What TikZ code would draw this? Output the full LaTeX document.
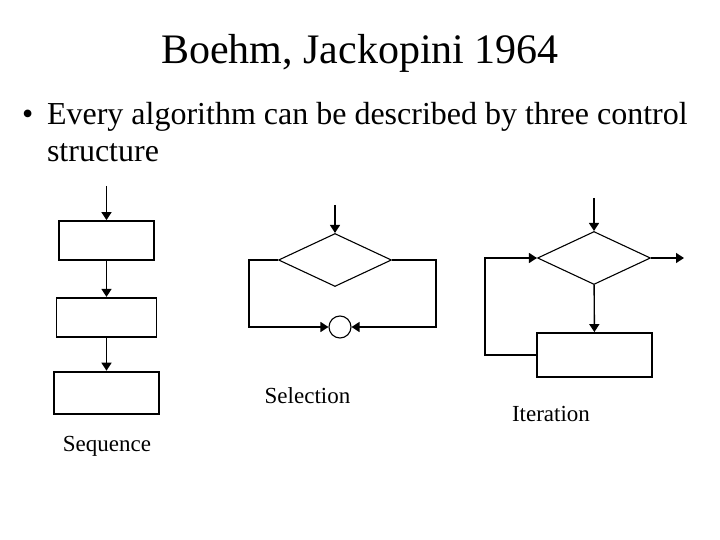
\documentclass[tikz,border=0pt]{standalone}
\usepackage{fontspec}
\setmainfont{Liberation Serif}
\usepackage{tikz}
\usetikzlibrary{arrows.meta,positioning,shapes.geometric}

\begin{document}
\begin{tikzpicture}[x=1pt, y=-1pt, line width=1.4pt,
    box/.style={draw, line width=1.8pt, minimum height=39pt, inner sep=0pt},
    dec/.style={draw, diamond, line width=1.1pt, inner sep=0pt,
                minimum width=113pt, minimum height=53pt},
    lbl/.style={font=\fontsize{23}{28}\selectfont, anchor=base},
    >={Triangle[length=8pt,width=10pt]}]
  \useasboundingbox (0,0) rectangle (720,540);
  \node[anchor=base, font=\fontsize{42}{50}\selectfont] (title) at (360,64) {Boehm, Jackopini 1964};
  \node[anchor=base west, font=\fontsize{32}{38}\selectfont] (bul) at (18,125) {•};
  \node[anchor=base west, font=\fontsize{32}{38}\selectfont] (txt1) at (43,125) {Every algorithm can be described by three control};
  \node[anchor=base west, font=\fontsize{32}{38}\selectfont] (txt2) at (43,161.5) {structure};

  \coordinate (s0) at (106.5,186);
  \node[box, minimum width=95pt] (s1) at (106.5,240.5) {};
  \node[box, minimum width=100pt, below=36pt of s1] (s2) {};
  \node[box, minimum width=105pt, minimum height=42pt, below=33pt of s2] (s3) {};
  \draw[->] (s0) -- (s1); \draw[->] (s1) -- (s2); \draw[->] (s2) -- (s3);
  \node[lbl] (seq) at (107,451) {Sequence};

  \coordinate (c0) at (335,205);
  \node[dec] (sel) at (335,260) {};
  \node[draw, circle, line width=1.1pt, minimum size=22pt, inner sep=0pt] (join) at (340,327) {};
  \draw[->] (c0) -- (sel);
  \draw[->] (sel.west) -- ++(-29,0) |- (join.west);
  \draw[->] (sel.east) -- ++(44,0) |- (join.east);
  \node[lbl] (selt) at (307.5,403) {Selection};

  \coordinate (i0) at (594,198);
  \node[dec] (itr) at (594,258) {};
  \node[box, minimum width=115pt, minimum height=44pt] (body) at (594.5,355) {};
  \coordinate (iout) at (684,258);
  \draw[->] (i0) -- (itr); \draw[->] (itr) -- (iout); \draw[->] (itr) -- (body);
  \draw[->] (body.west) -- ++(-51,0) |- (itr.west);
  \node[lbl] (itrt) at (551,421.5) {Iteration};
\end{tikzpicture}
\end{document}
